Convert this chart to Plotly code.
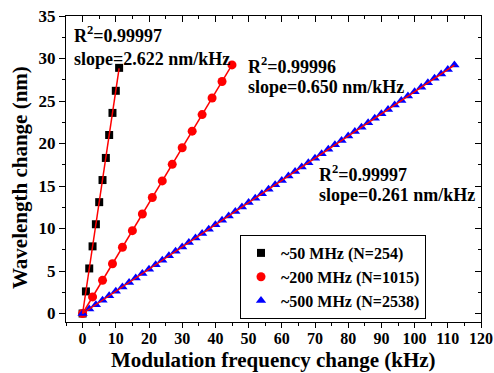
import plotly.graph_objects as go

# ---- data ----
x50 = [0, 1, 2, 3, 4, 5, 6, 7, 8, 9, 10, 11]
y50 = [0, 2.6, 5.3, 7.9, 10.5, 13.1, 15.7, 18.3, 21.0, 23.6, 26.2, 28.9]

x200 = [0, 3, 6, 9, 12, 15, 18, 21, 24, 27, 30, 33, 36, 39, 42, 45]
y200 = [0, 1.95, 3.9, 5.85, 7.8, 9.75, 11.7, 13.65, 15.6, 17.55, 19.5, 21.45,
        23.4, 25.35, 27.3, 29.25]

x500 = [0, 2, 4, 6, 8, 10, 12, 14, 16, 18, 20, 22, 24, 26, 28, 30, 32, 34, 36, 38,
        40, 42, 44, 46, 48, 50, 52, 54, 56, 58, 60, 62, 64, 66, 68, 70, 72, 74, 76,
        78, 80, 82, 84, 86, 88, 90, 92, 94, 96, 98, 100, 102, 104, 106, 108, 110, 112]
y500 = [0, 0.52, 1.04, 1.57, 2.09, 2.61, 3.13, 3.65, 4.18, 4.70, 5.22, 5.74, 6.26,
        6.79, 7.31, 7.83, 8.35, 8.87, 9.40, 9.92, 10.44, 10.96, 11.48, 12.01, 12.53,
        13.05, 13.57, 14.09, 14.62, 15.14, 15.66, 16.18, 16.70, 17.23, 17.75, 18.27,
        18.79, 19.31, 19.84, 20.36, 20.88, 21.40, 21.92, 22.45, 22.97, 23.49, 24.01,
        24.53, 25.06, 25.58, 26.10, 26.62, 27.14, 27.67, 28.19, 28.71, 29.23]

slopes = [2.622, 0.650, 0.261]
r2 = ["0.99997", "0.99996", "0.99997"]
names = ["~50 MHz (N=254)", "~200 MHz (N=1015)", "~500 MHz (N=2538)"]
x_ticks = list(range(0, 121, 10))
y_ticks = list(range(0, 36, 5))

FONT = "Liberation Serif"
L, R, T, B = 66, 481, 16, 322
PW, PH = R - L, B - T

fig = go.Figure()

series = [(x50, y50, "square", "black", 8),
          (x200, y200, "circle", "red", 9),
          (x500, y500, "triangle-up", "blue", 9)]

for (xs, ys, sym, col, sz), nm in zip(series, names):
    fig.add_trace(go.Scatter(x=xs, y=ys, mode="markers", name=nm,
                             marker=dict(symbol=sym, color=col, size=sz, line=dict(width=0))))
for (xs, ys, sym, col, sz), s in zip(series, slopes):
    fig.add_trace(go.Scatter(x=[xs[0], xs[-1]], y=[s * xs[0], s * xs[-1]], mode="lines",
                             line=dict(color="red", width=1.5), showlegend=False,
                             hoverinfo="skip"))
fig.add_trace(go.Scatter(x=[None], y=[None], xaxis="x2", yaxis="y2", showlegend=False,
                         hoverinfo="skip"))

def px2paper(px, py):
    return (px - L) / PW, 1 - (py - T) / PH

annos = [(72, 34, 59, r2[0], slopes[0]), (246, 65, 87, r2[1], slopes[1]),
         (317, 173, 195, r2[2], slopes[2])]
bold = dict(family=FONT, size=18, color="black", weight="bold")
for px, py1, py2, r, s in annos:
    ax, ay = px2paper(px, py1)
    fig.add_annotation(xref="paper", yref="paper", x=ax, y=ay, xanchor="left",
                       yanchor="middle", showarrow=False,
                       text="R<sup>2</sup>=%s" % r, font=bold)
    ax, ay = px2paper(px, py2)
    fig.add_annotation(xref="paper", yref="paper", x=ax, y=ay, xanchor="left",
                       yanchor="middle", showarrow=False,
                       text="slope=%.3f nm/kHz" % s, font=bold)

# axis titles
tx, ty = px2paper(273, 360)
fig.add_annotation(xref="paper", yref="paper", x=tx, y=ty, showarrow=False,
                   xanchor="center", yanchor="middle",
                   text="Modulation frequency change (kHz)",
                   font=dict(family=FONT, size=21, color="black", weight="bold"))
tx, ty = px2paper(20, 178)
fig.add_annotation(xref="paper", yref="paper", x=tx, y=ty, showarrow=False,
                   xanchor="center", yanchor="middle", textangle=-90,
                   text="Wavelength change (nm)",
                   font=dict(family=FONT, size=21, color="black", weight="bold"))

axfont = dict(family=FONT, size=17, color="black", weight="bold")
common = dict(showline=True, linecolor="black", linewidth=1, showgrid=False,
              zeroline=False, tickcolor="black", tickwidth=1, automargin=False)
fig.update_layout(
    width=494, height=373,
    margin=dict(l=L, r=494 - R, t=T, b=373 - B),
    plot_bgcolor="white", paper_bgcolor="white",
    font=dict(family=FONT, color="black"),
    xaxis=dict(range=[-5, 120], tickvals=x_ticks, ticks="outside", ticklen=5,
               ticklabelstandoff=-3,
               minor=dict(dtick=5, tick0=0, ticks="outside", ticklen=3, tickcolor="black"),
               tickfont=dict(family=FONT, size=16, color="black", weight="bold"), **common),
    yaxis=dict(range=[-1, 35], tickvals=y_ticks, ticks="outside", ticklen=6,
               minor=dict(dtick=2.5, tick0=0, ticks="outside", ticklen=3, tickcolor="black"),
               tickfont=axfont, **common),
    xaxis2=dict(overlaying="x", matches="x", side="top", range=[-5, 120],
                tickvals=x_ticks, ticks="inside", ticklen=6,
                minor=dict(dtick=5, tick0=0, ticks="inside", ticklen=3, tickcolor="black"),
                showticklabels=False, **common),
    yaxis2=dict(overlaying="y", matches="y", side="right", range=[-1, 35],
                tickvals=y_ticks, ticks="inside", ticklen=6,
                minor=dict(dtick=2.5, tick0=0, ticks="inside", ticklen=3, tickcolor="black"),
                showticklabels=False, **common),
    legend=dict(x=(240 - L) / PW, y=1 - (235 - T) / PH, xanchor="left", yanchor="top",
                bordercolor="black", borderwidth=1, bgcolor="white",
                font=dict(family=FONT, size=16, color="black", weight="bold"),
                itemwidth=30, tracegroupgap=0),
    showlegend=True,
)

fig.write_html("out.html")
